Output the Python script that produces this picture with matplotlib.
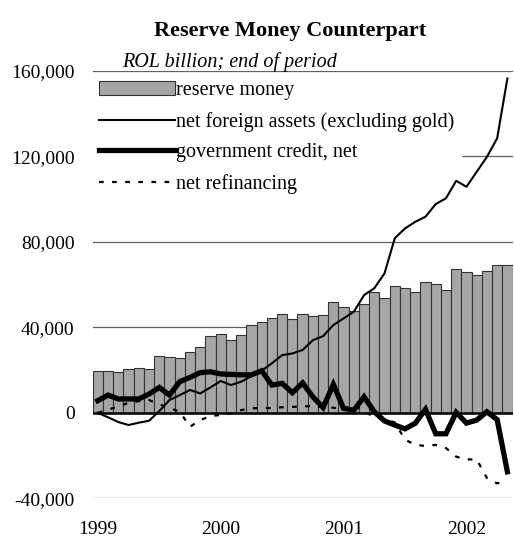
import matplotlib
matplotlib.use("Agg")
import matplotlib.pyplot as plt
from matplotlib import ticker
import numpy as np

plt.rcParams['font.family'] = ['Liberation Serif', 'DejaVu Serif']

# monthly, Jan 1999 - May 2002 (ROL billion, end of period)
years = ["1999", "2000", "2001", "2002"]
reserve_money = [19400, 19400, 19100, 20600, 20800, 20300, 26400, 26000, 25600, 28300,
                 30800, 36100, 36700, 34100, 36300, 40900, 42300, 44200, 46100, 43800,
                 46400, 45300, 45900, 51700, 49500, 47800, 50900, 56400, 53900, 59200,
                 58300, 56700, 61200, 60400, 57300, 67400, 65700, 64500, 66400, 69200,
                 69000]
net_foreign_assets = [0, -2100, -4300, -5700, -4600, -3700, 800, 6000, 8300, 10700,
                      9100, 11900, 14900, 13000, 14600, 17200, 19700, 23200, 27000, 27800,
                      29400, 34000, 35900, 41100, 44200, 47300, 55100, 58300, 65300, 81700,
                      86300, 89400, 91800, 97700, 100400, 108600, 105800, 112800, 119800, 128500,
                      156500]
government_credit = [5700, 8300, 6500, 6500, 6500, 8800, 11900, 8300, 14600, 16600,
                     18800, 19200, 18200, 18000, 17800, 17800, 19700, 13000, 13800, 9400,
                     14000, 7500, 2500, 13300, 2100, 1200, 7500, 500, -3800, -5700,
                     -7500, -4900, 1600, -9800, -9800, 200, -4800, -3400, 500, -3200,
                     -27600]
net_refinancing = [0, 1500, 3000, 4700, 5500, 6000, 4000, 2300, 500, -6500,
                   -3400, -1500, -1000, -300, 1300, 2100, 2300, 2200, 2600, 2800,
                   3000, 3200, 2600, 2400, 1500, 4000, 500, -1800, -3000, -4500,
                   -12500, -15000, -15500, -15000, -16500, -20500, -21800, -21800, -30500, -33000,
                   -32000]

x = np.arange(len(reserve_money))

fig = plt.figure(figsize=(5.14, 5.39), dpi=100)
ax = fig.add_axes([0.1804, 0.0755, 0.8167, 0.7928])

# horizontal grid behind the bars
for yv in [-40000, 40000, 80000, 120000, 160000]:
    ax.axhline(yv, color='#606060', lw=0.9, zorder=0)

bars = ax.bar(x, reserve_money, width=1.0, color='#a6a6a6', edgecolor='#333333',
              linewidth=0.8, zorder=1)
ax.axhline(0, color='black', lw=1.8, zorder=2)

l_nfa, = ax.plot(x, net_foreign_assets, color='black', lw=1.5, zorder=3)
l_gov, = ax.plot(x, government_credit, color='black', lw=3.8, zorder=3,
                 solid_joinstyle='miter')
l_ref, = ax.plot(x, net_refinancing, color='black', lw=1.6, ls=(0, (2.1, 3.8)), zorder=3)

ax.set_xlim(-0.5, len(x) - 0.5)
ax.set_ylim(-40000, 160000)
ax.set_yticks([-40000, 0, 40000, 80000, 120000, 160000])
ax.yaxis.set_major_formatter(ticker.FuncFormatter(lambda v, p: f"{int(v):,}"))
ax.set_xticks([0, 12, 24, 36])
ax.set_xticklabels(years)
ax.tick_params(axis='both', length=0, labelsize=14)
ax.tick_params(axis='y', pad=13)
ax.tick_params(axis='x', pad=16)
for s in ax.spines.values():
    s.set_visible(False)

# legend box hides the grid but sits under the series lines
leg = ax.legend([bars, l_nfa, l_gov, l_ref],
                ['reserve money', 'net foreign assets (excluding gold)',
                 'government credit, net', 'net refinancing'],
                loc='upper left', bbox_to_anchor=(0.0, 0.99), fontsize=14.5,
                frameon=True, fancybox=False, edgecolor='white', framealpha=1,
                handlelength=3.8, handletextpad=0.05, labelspacing=0.57,
                borderpad=0.3, borderaxespad=0.0)
leg.set_zorder(2.5)

fig.text(0.565, 0.943, "Reserve Money Counterpart", ha='center', va='center',
         fontsize=16, fontweight='bold')
fig.text(0.237, 0.884, "ROL billion; end of period", ha='left', va='center',
         fontsize=14.5, style='italic')

fig.savefig("out.png", dpi=100)
